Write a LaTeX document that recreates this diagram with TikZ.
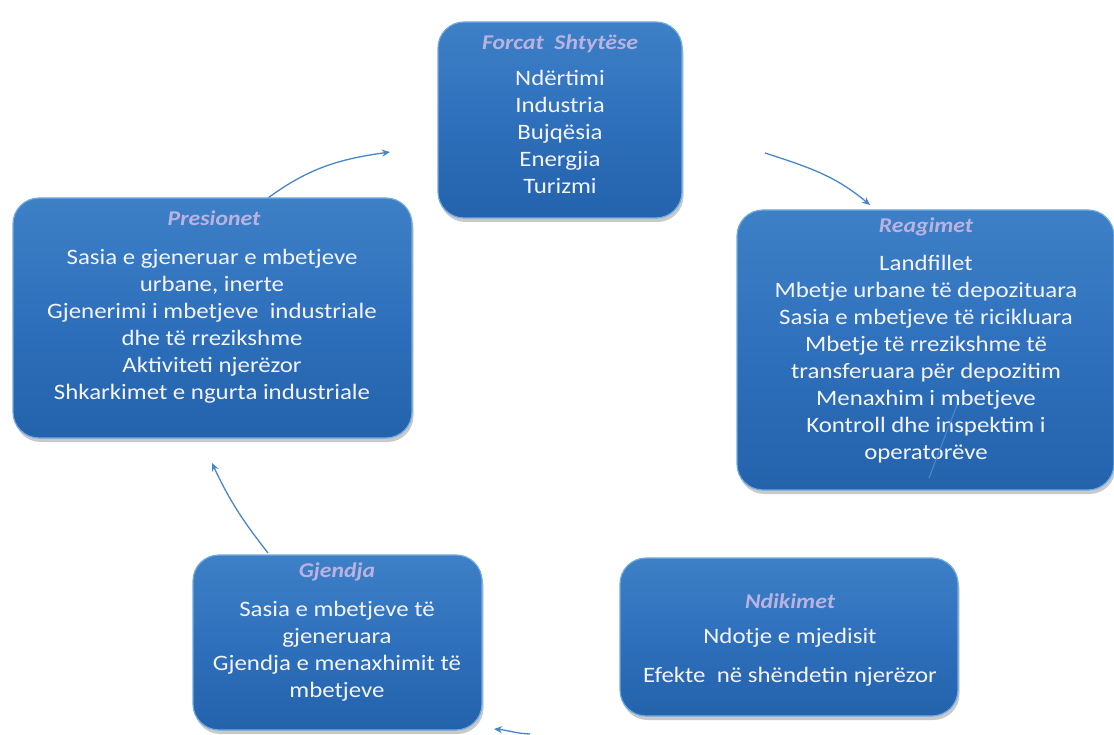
\documentclass[tikz,border=0pt]{standalone}
\usepackage{fontspec}
\setmainfont{Carlito}[FakeStretch=1.13]
\usetikzlibrary{shadows,arrows.meta}
\definecolor{boxtop}{RGB}{62,128,198}
\definecolor{boxmid}{RGB}{46,112,188}
\definecolor{boxbot}{RGB}{36,98,172}
\definecolor{boxrim}{RGB}{112,170,226}
\definecolor{titlec}{RGB}{188,178,224}
\definecolor{bodyc}{RGB}{244,244,252}
\definecolor{arrc}{RGB}{72,134,204}
\newcommand\bodylines[1]{\begin{tabular}[t]{@{}c@{}}#1\end{tabular}}
\tikzset{
  panel/.style={rounded corners=26pt, draw=boxrim, line width=1.2pt,
    top color=boxtop, bottom color=boxbot, middle color=boxmid,
    drop shadow={shadow xshift=1.5pt, shadow yshift=-4pt, opacity=0.3, fill=black!70}},
  ttl/.style={anchor=base, inner sep=0pt, text=titlec, font=\fontsize{21}{24}\selectfont\bfseries\itshape},
  body/.style={anchor=base, inner sep=0pt, text=bodyc, font=\fontsize{22}{27}\selectfont},
  arr/.style={draw=arrc, line width=1.3pt, -{Stealth[length=8pt,width=7pt]}},
  thin/.style={draw=arrc, line width=1.1pt}
}
\begin{document}
\begin{tikzpicture}[x=1pt,y=1pt]
\useasboundingbox (0,0) rectangle (1114,-735);
% panels
\node[panel, minimum width=244pt, minimum height=196pt] (f) at (560,-120) {};
\node[panel, minimum width=399pt, minimum height=240pt] (p) at (212.5,-318) {};
\node[panel, minimum width=377pt, minimum height=280pt] (r) at (925.5,-350) {};
\node[panel, minimum width=289pt, minimum height=175pt] (g) at (337.5,-642.5) {};
\node[panel, minimum width=338pt, minimum height=158pt] (n) at (789,-637) {};
% texts
\node[ttl] (ft) at (560,-50) {Forcat\ \ Shtytëse};
\node[body] (fb) at (560,-86) {\bodylines{Ndërtimi\\Industria\\Bujqësia\\Energjia\\Turizmi}};
\node[ttl] (pt) at (214,-226) {Presionet};
\node[body] (pb) at (212,-265) {\bodylines{Sasia e gjeneruar e mbetjeve\\urbane, inerte\\Gjenerimi i mbetjeve\ \ industriale\\dhe të\ rrezikshme\\Aktiviteti njerëzor\\Shkarkimet e\ ngurta industriale}};
\node[ttl] (rt) at (926,-233) {Reagimet};
\node[body] (rb) at (926,-271) {\bodylines{Landfillet\\Mbetje urbane të depozituara\\Sasia e mbetjeve të ricikluara\\Mbetje të rrezikshme të\\transferuara për depozitim\\Menaxhim i mbetjeve\\Kontroll dhe inspektim i\\operatorëve}};
\node[ttl] (gt) at (337,-577) {Gjendja};
\node[body] (gb) at (337,-616) {\bodylines{Sasia e mbetjeve të\\gjeneruara\\Gjendja e menaxhimit të\\mbetjeve}};
\node[ttl] (nt) at (790,-608) {Ndikimet};
\node[body] (nb1) at (790,-643) {Ndotje e mjedisit};
\node[body] (nb2) at (790,-682) {Efekte\ \ në shëndetin njerëzor};
% connectors
\coordinate (a1e) at (390,-152);
\draw[arr] (p.65) to[out=36,in=188] (a1e);
\coordinate (a2s) at (765,-153);
\coordinate (a2e) at (870,-205);
\draw[arr] (a2s) to[out=-18,in=140] (a2e);
\coordinate (a3s) at (929,-478);
\coordinate (a3e) at (957,-405);
\draw[thin] (a3s) -- (a3e);
\coordinate (a4s) at (530,-734);
\coordinate (a4e) at (494,-729);
\draw[arr] (a4s) to[out=178,in=-5] (a4e);
\coordinate (a5s) at (268,-553);
\coordinate (a5e) at (212,-463);
\draw[arr] (a5s) to[out=128,in=-65] (a5e);
\end{tikzpicture}
\end{document}
